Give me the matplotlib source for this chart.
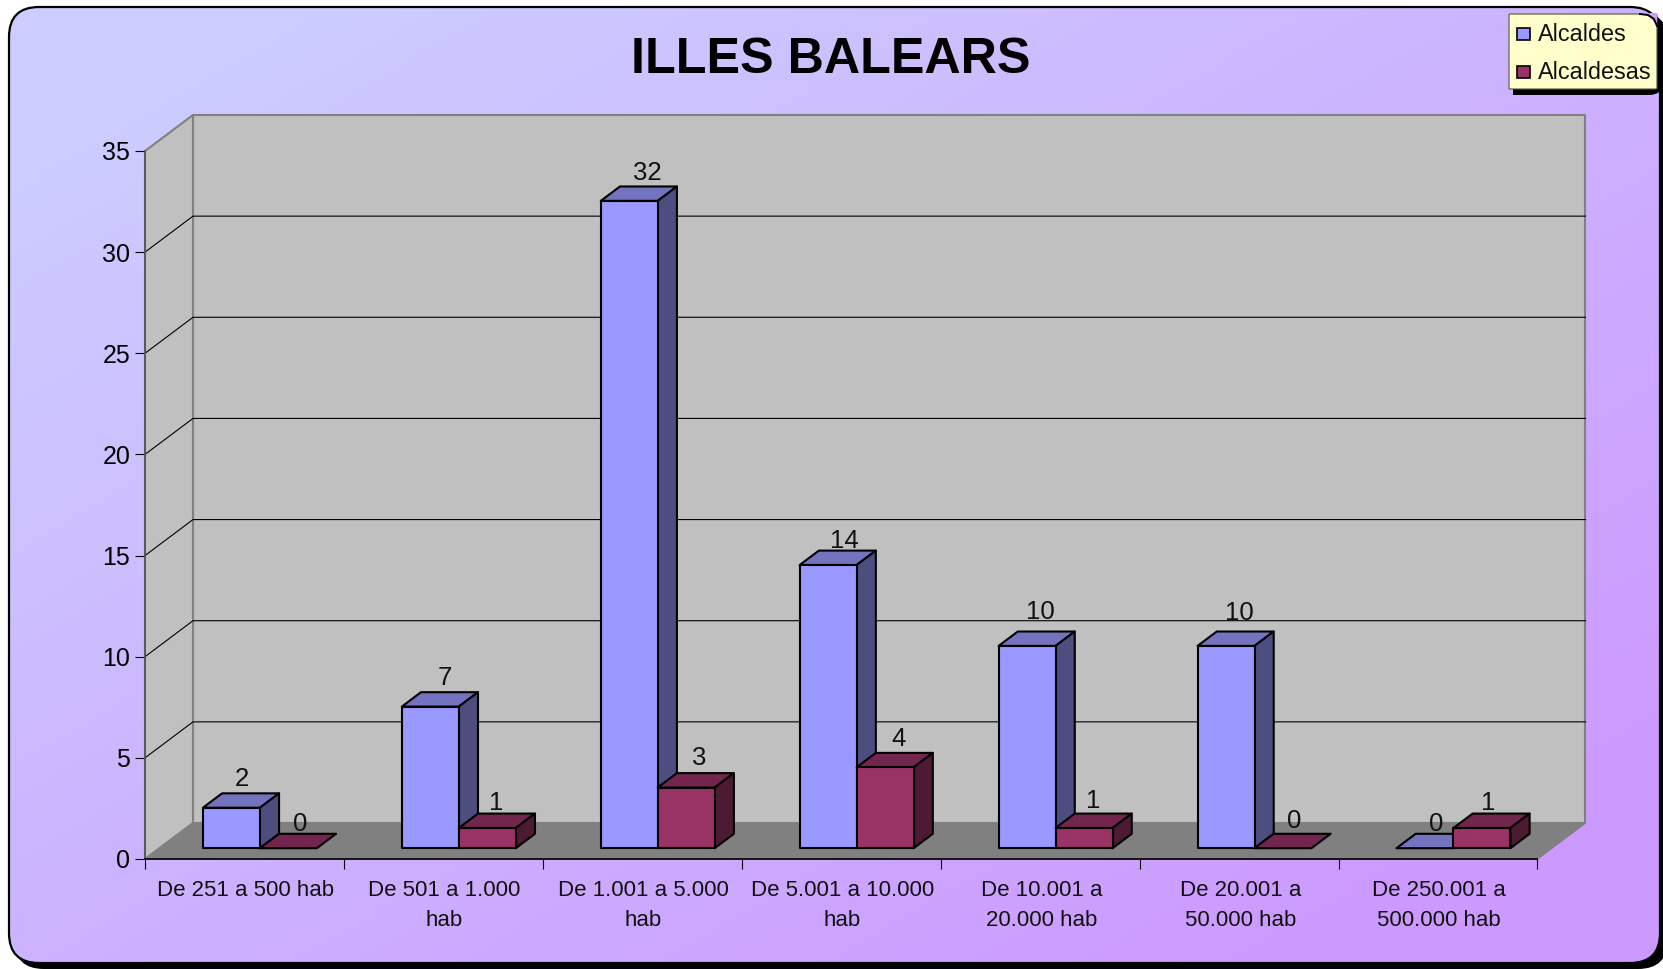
import numpy as np
import matplotlib
matplotlib.use("Agg")
import matplotlib.pyplot as plt
from matplotlib.colors import LinearSegmentedColormap
from matplotlib.patches import FancyBboxPatch, Polygon, Rectangle

plt.rcParams['font.family'] = ['Liberation Sans', 'DejaVu Sans']

# Chart data
categories = ["De 251 a 500 hab", "De 501 a 1.000\nhab", "De 1.001 a 5.000\nhab",
              "De 5.001 a 10.000\nhab", "De 10.001 a\n20.000 hab", "De 20.001 a\n50.000 hab",
              "De 250.001 a\n500.000 hab"]
alcaldes = [2, 7, 32, 14, 10, 10, 0]
alcaldesas = [0, 1, 3, 4, 1, 0, 1]
y_ticks = [0, 5, 10, 15, 20, 25, 30, 35]
title = "ILLES BALEARS"
series_names = ["Alcaldes", "Alcaldesas"]

# label nudges in pixels, the original places them a bit unevenly
nudge_alcaldes = [(1, 2), (5, 2), (8.5, 2), (6.5, 6), (4, -4), (4, -3), (2, 6)]
nudge_alcaldesas = [(2, 6), (-1, 5), (3, 1), (4, 2), (0, 3), (2, 3), (-3, 5)]

W, H = 1663, 969

# front plane of the 3D box, in pixels
AX_L, AX_R, AX_T, AX_B = 145, 1537.5, 151, 859
DEPTH_PX = (48, 36)


def px_axes(fig, l, t, r, b, **kw):
    return fig.add_axes([l / W, 1 - b / H, (r - l) / W, (b - t) / H], **kw)


fig = plt.figure(figsize=(W / 100, H / 100), dpi=100, facecolor="white")

# background panel, full figure in pixel coordinates
bg = fig.add_axes([0, 0, 1, 1])
bg.set_xlim(0, W)
bg.set_ylim(H, 0)
bg.axis("off")


def rounded(x0, y0, x1, y1, rad, **kw):
    p = FancyBboxPatch((x0 + rad, y0 + rad), x1 - x0 - 2 * rad, y1 - y0 - 2 * rad,
                       boxstyle=f"round,pad={rad},rounding_size={rad}", **kw)
    bg.add_patch(p)
    return p


rounded(14, 12, 1668, 969, 30, fc="black", ec="black", lw=0)
panel = rounded(9, 7, 1660, 963, 30, fc="none", ec="none", lw=0)
grad_x, grad_y = np.meshgrid(np.linspace(0, 1, 300), np.linspace(0, 1, 200))
cmap = LinearSegmentedColormap.from_list("bg", ["#CCCCFF", "#CC99FF"])
im = bg.imshow((grad_x + grad_y) / 2, extent=(0, W, H, 0), aspect="auto",
               cmap=cmap, vmin=0.1, vmax=0.9, zorder=1)
im.set_clip_path(panel)
rounded(9, 7, 1660, 963, 30, fc="none", ec="black", lw=1.6, zorder=2)

bg.text(831, 60, title, fontsize=36.2, fontweight="bold", ha="center", va="center",
        color="black", zorder=3)

# legend box
rounded(1513, 19, 1663, 95, 14, fc="black", ec="black", lw=0, zorder=3)
bg.add_patch(Rectangle((1513, 80), 20, 15, fc="black", ec="black", lw=0, zorder=3))
leg = FancyBboxPatch((1509, 14), 148, 75, boxstyle="round,pad=0,rounding_size=1",
                     fc="#FFFFCC", ec="#555533", lw=0.8, zorder=4)
bg.add_patch(leg)
bg.add_patch(Polygon([(1640, 13), (1657, 13), (1657, 26), (1650, 17)], fc="#CC9FFF", ec="none", zorder=4))
bg.plot([1640, 1648, 1654, 1657], [14, 15, 19, 26], color="black", lw=1.4, zorder=5)
for y0, name, col in zip((28, 66), series_names, ("#9999FF", "#993366")):
    bg.add_patch(Rectangle((1517, y0), 13, 12, fc=col, ec="black", lw=1.2, zorder=5))
    bg.text(1538, y0 + 6.5, name, fontsize=16.8, va="center", ha="left", color="#111111", zorder=5)

# data axes: x is category index, y is value, same scale as the front plane
ax = px_axes(fig, AX_L, AX_T, AX_R, AX_B)
ax.patch.set_alpha(0)
ax.set_xlim(0, len(categories))
ax.set_ylim(0, 35)
for s in ax.spines.values():
    s.set_visible(False)

dx = DEPTH_PX[0] * len(categories) / (AX_R - AX_L)
dy = DEPTH_PX[1] * 35 / (AX_B - AX_T)


def proj(x, y, d):
    return x + d * dx, y + d * dy


def poly(points, **kw):
    ax.add_patch(Polygon(points, clip_on=False, joinstyle="round", **kw))


n = len(categories)
# walls and floor
poly([proj(0, 0, 1), proj(n, 0, 1), proj(n, 35, 1), proj(0, 35, 1)], fc="#C0C0C0", ec="#808080", lw=1.5, zorder=1)
poly([proj(0, 0, 0), proj(0, 0, 1), proj(0, 35, 1), proj(0, 35, 0)], fc="#C0C0C0", ec="#808080", lw=1.5, zorder=1)
poly([proj(0, 0, 0), proj(n, 0, 0), proj(n, 0, 1), proj(0, 0, 1)], fc="#808080", ec="#808080", lw=1, zorder=1.5)
for v in y_ticks[1:-1]:
    xs, ys = zip(proj(0, v, 0), proj(0, v, 1), proj(n, v, 1))
    ax.plot(xs, ys, color="black", lw=0.8, zorder=1.2, clip_on=False)

# axis lines and ticks
ax.plot([0, 0], [0, 35], color="#555555", lw=1.3, clip_on=False, zorder=2)
ax.plot([0, n], [0, 0], color="black", lw=1.2, clip_on=False, zorder=2)
ax.set_yticks(y_ticks)
ax.set_xticks(range(n + 1))
ax.set_xticklabels([])
ax.tick_params(axis="y", length=7.2, width=0.8, labelsize=18, pad=3.5, colors="black")
ax.tick_params(axis="x", length=7.2, width=0.8, color="black")
ax.get_xticklines()[0].set_color("#555555")
ax.get_xticklines()[-2].set_color("#555555")
for i, lab in enumerate(categories):
    ax.annotate(lab, (i + 0.5, 0), xytext=(0.8, -15), textcoords="offset points", ha="center", va="top",
                fontsize=16, linespacing=1.58, color="#111111", annotation_clip=False)

# bars
BAR_W = 57 / 199
GAP = (1 - 2 * BAR_W) / 2 + 1 / 199
D0, D1 = 0.30, 0.70


def bar3d(x, val, nudge, front, side, top, z):
    edge = dict(ec="black", lw=1.5, zorder=z)
    poly([proj(x, val, D0), proj(x + BAR_W, val, D0), proj(x + BAR_W, val, D1), proj(x, val, D1)], fc=top, **edge)
    if val > 0:
        poly([proj(x + BAR_W, 0, D0), proj(x + BAR_W, 0, D1), proj(x + BAR_W, val, D1), proj(x + BAR_W, val, D0)],
             fc=side, **edge)
        poly([proj(x, 0, D0), proj(x + BAR_W, 0, D0), proj(x + BAR_W, val, D0), proj(x, val, D0)], fc=front, **edge)
    lx = proj(x + BAR_W / 2, val, (D0 + D1) / 2)[0]
    ly = proj(0, val, D1)[1]
    ax.annotate(str(val), (lx, ly), xytext=(nudge[0] * 0.72, 11.5 - nudge[1] * 0.72), textcoords="offset points",
                ha="center", va="center", fontsize=18.5, color="#111111", zorder=20, annotation_clip=False)


for i in range(n):
    x_left = i + GAP
    bar3d(x_left, alcaldes[i], nudge_alcaldes[i], "#9999FF", "#4D4D80", "#7373BF", 5 + i * 0.1)
    bar3d(x_left + BAR_W, alcaldesas[i], nudge_alcaldesas[i], "#993366", "#4D1A33", "#73264D", 5.05 + i * 0.1)

fig.savefig("out.png", dpi=100)
